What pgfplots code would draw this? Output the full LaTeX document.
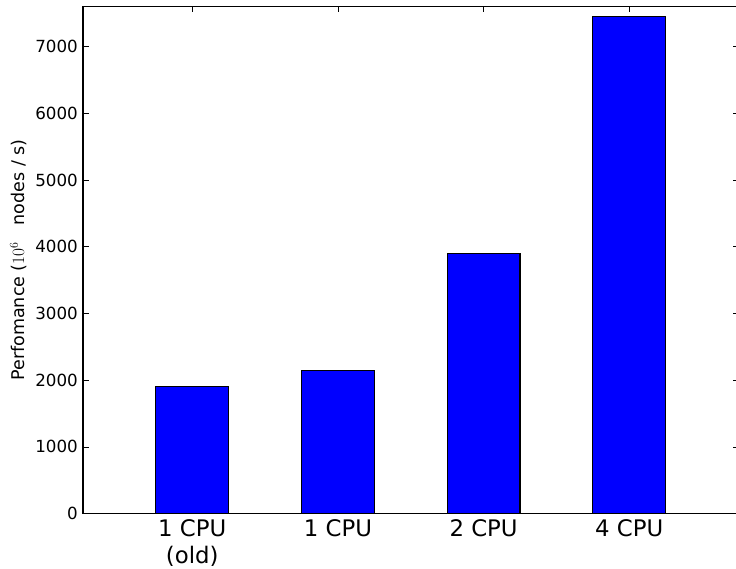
\documentclass[border=0pt]{standalone}
\usepackage{pgfplots}
\pgfplotsset{compat=1.18}
\usepackage{fontspec}
\setmainfont{DejaVu Sans}

% Performance per configuration (10^6 nodes per second)
\pgfplotstableread{
pos perf
0   1904
1   2145
2   3898
3   7453
}\perfdata

\begin{document}
\begin{tikzpicture}
\path[use as bounding box, clip] (-83pt,-55.4pt) rectangle (653pt,513.6pt);
\begin{axis}[
  at={(0pt,0pt)}, anchor=south west,
  scale only axis,
  width=655.5pt, height=507pt,
  xmin=-0.75, xmax=3.75,
  ymin=0, ymax=7600,
  xtick={0,1,2,3},
  xticklabels={{1 CPU\\(old)},{1 CPU},{2 CPU},{4 CPU}},
  ytick={0,1000,...,7000},
  tick align=inside,
  major tick length=5.6pt,
  every tick/.style={black, line width=0.7pt},
  axis line style={black, line width=1.3pt},
  /pgf/number format/assume math mode=true,
  /pgf/number format/1000 sep={},
  yticklabel style={font=\fontsize{16.7}{20}\selectfont, inner sep=0pt, xshift=-5pt},
  xticklabel style={font=\fontsize{22.8}{27}\selectfont, align=center, inner sep=0pt, anchor=north, yshift=-6pt},
  every axis y label/.style={at={(rel axis cs:0,0.5)}, rotate=90, anchor=north,
    inner sep=0pt, yshift=73pt, font=\fontsize{17.5}{21}\selectfont},
  ylabel={Perfomance ($10^{6}$\ \ \ nodes / s)},
]
\addplot[ybar, bar width=0.5, fill=blue, draw=black, line width=1.3pt]
  table[x=pos, y=perf] {\perfdata};
\end{axis}
\end{tikzpicture}
\end{document}
